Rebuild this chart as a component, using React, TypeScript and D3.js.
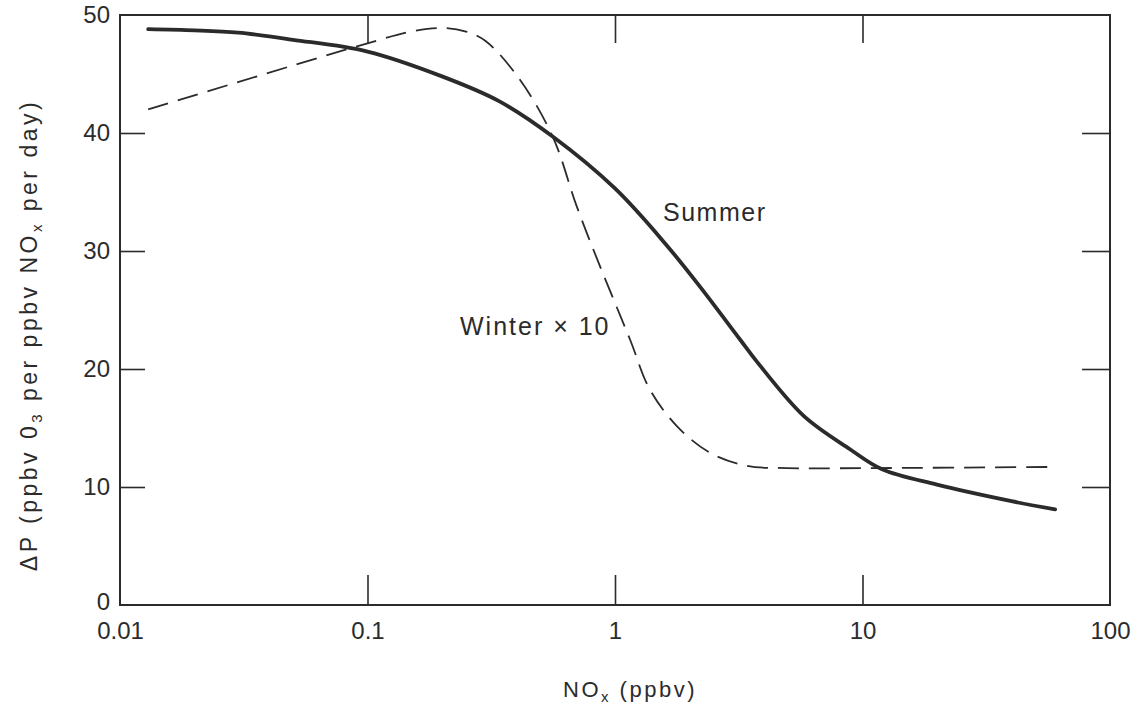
import React, { useEffect, useRef } from "react";
import * as d3 from "d3";

// NOx (ppbv) and ΔP values
const summerNox = [0.013, 0.02, 0.03, 0.05, 0.1, 0.2, 0.34, 0.56, 1.0, 1.6, 2.2, 3.2, 3.75, 5.8, 8.9, 12, 20, 40, 60];
const summerDp = [48.8, 48.7, 48.5, 47.9, 46.9, 44.8, 42.7, 39.7, 35.3, 30.6, 27.0, 22.5, 20.6, 16.0, 13.2, 11.5, 10.2, 8.8, 8.1];

const winterNox = [0.013, 0.1, 0.15, 0.2, 0.25, 0.3, 0.41, 0.56, 0.7, 0.87, 1.15, 1.38, 1.79, 2.42, 3.41, 4.95, 10, 60];
const winterDp = [42.0, 47.6, 48.6, 48.9, 48.6, 47.8, 44.6, 39.7, 33.8, 28.7, 22.5, 18.3, 15.1, 12.9, 11.8, 11.6, 11.6, 11.7];

const xTicks = [0.01, 0.1, 1, 10, 100];
const xTickLabels = ["0.01", "0.1", "1", "10", "100"];
const yTicks = [0, 10, 20, 30, 40, 50];

const ink = "#2b2b2b";
const font = "'Liberation Sans', Arial, Helvetica, sans-serif";

export default function App() {
  const ref = useRef<SVGSVGElement>(null);

  useEffect(() => {
    const width = 1137;
    const height = 706;
    const margin = { top: 15, right: 27, bottom: 101, left: 120 };
    const svg = d3.select(ref.current);
    svg.selectAll("*").remove();

    const x = d3
      .scaleLog()
      .domain([0.01, 100])
      .range([margin.left, width - margin.right]);
    const y = d3
      .scaleLinear()
      .domain([0, 50])
      .range([height - margin.bottom, margin.top]);

    const styleAxis = (g) => {
      g.select(".domain").remove();
      g.selectAll(".tick line").attr("stroke", ink).attr("stroke-width", 1.6);
      g.selectAll(".tick text").attr("fill", ink).attr("font-size", 24).attr("font-family", font);
    };

    // bottom ticks + labels
    svg
      .append("g")
      .attr("transform", `translate(0,${y(0)})`)
      .call(
        d3
          .axisBottom(x)
          .tickValues(xTicks)
          .tickFormat((d, i) => xTickLabels[i])
          .tickSize(-30)
          .tickPadding(17)
      )
      .call(styleAxis)
      .call((g) => g.selectAll(".tick line").filter((d) => d === 0.01 || d === 100).remove());

    // top inner ticks
    svg
      .append("g")
      .attr("transform", `translate(0,${y(50)})`)
      .call(d3.axisTop(x).tickValues([0.1, 1, 10]).tickSize(-28).tickFormat(() => ""))
      .call(styleAxis);

    // left ticks + labels
    svg
      .append("g")
      .attr("transform", `translate(${x(0.01)},0)`)
      .call(d3.axisLeft(y).tickValues(yTicks).tickSize(-25).tickPadding(10))
      .call(styleAxis)
      .call((g) => g.selectAll(".tick line").filter((d) => d === 0 || d === 50).remove())
      .call((g) => g.selectAll(".tick text").filter((d) => d === 0).attr("dy", "0.2em"));

    // right inner ticks
    svg
      .append("g")
      .attr("transform", `translate(${x(100)},0)`)
      .call(d3.axisRight(y).tickValues([10, 20, 30, 40]).tickSize(-28).tickFormat(() => ""))
      .call(styleAxis);

    // frame
    svg
      .append("rect")
      .attr("x", x(0.01))
      .attr("y", y(50))
      .attr("width", x(100) - x(0.01))
      .attr("height", y(0) - y(50))
      .attr("fill", "none")
      .attr("stroke", ink)
      .attr("stroke-width", 2);

    const line = d3
      .line()
      .x((d) => x(d[0]))
      .y((d) => y(d[1]))
      .curve(d3.curveCatmullRom.alpha(0.5));

    svg
      .append("path")
      .datum(winterNox.map((v, i) => [v, winterDp[i]]))
      .attr("fill", "none")
      .attr("stroke", ink)
      .attr("stroke-width", 1.8)
      .attr("stroke-dasharray", "21 10")
      .attr("d", line);

    svg
      .append("path")
      .datum(summerNox.map((v, i) => [v, summerDp[i]]))
      .attr("fill", "none")
      .attr("stroke", ink)
      .attr("stroke-width", 3.8)
      .attr("stroke-linecap", "round")
      .attr("d", line);

    // curve labels
    svg
      .append("text")
      .attr("x", 663)
      .attr("y", 221)
      .attr("font-size", 25)
      .attr("letter-spacing", 1.5)
      .attr("font-family", font)
      .attr("fill", ink)
      .text("Summer");
    svg
      .append("text")
      .attr("x", 460)
      .attr("y", 335)
      .attr("font-size", 25)
      .attr("letter-spacing", 2)
      .attr("font-family", font)
      .attr("fill", ink)
      .text("Winter \u00d7 10");

    // x axis title
    const xt = svg
      .append("text")
      .attr("x", 630)
      .attr("y", 697)
      .attr("text-anchor", "middle")
      .attr("font-size", 22)
      .attr("letter-spacing", 2.5)
      .attr("font-family", font)
      .attr("fill", ink);
    xt.append("tspan").text("NO");
    xt.append("tspan").attr("font-size", 15).attr("dy", 5).text("x");
    xt.append("tspan").attr("dy", -5).text(" (ppbv)");

    // y axis title
    const yt = svg
      .append("text")
      .attr("transform", "translate(37,335) rotate(-90)")
      .attr("text-anchor", "middle")
      .attr("font-size", 23)
      .attr("letter-spacing", 3.5)
      .attr("font-family", font)
      .attr("fill", ink);
    yt.append("tspan").text("\u0394P (ppbv 0");
    yt.append("tspan").attr("font-size", 15).attr("dy", 5).text("3");
    yt.append("tspan").attr("dy", -5).text(" per ppbv NO");
    yt.append("tspan").attr("font-size", 15).attr("dy", 5).text("x");
    yt.append("tspan").attr("dy", -5).text(" per day)");
  }, []);

  return (
    <svg
      ref={ref}
      width={1137}
      height={706}
      style={{ position: "absolute", left: 0, top: 0, background: "#fff" }}
    />
  );
}
